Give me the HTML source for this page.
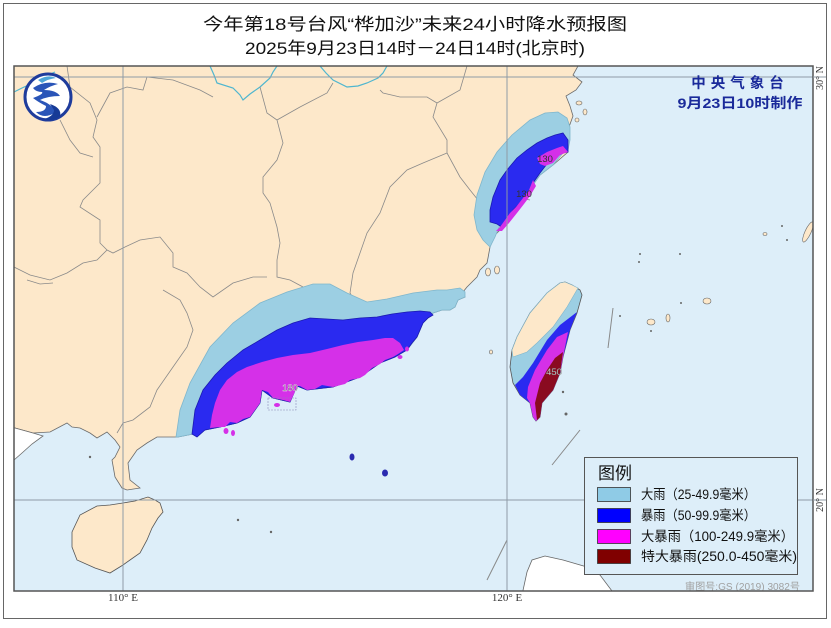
<!DOCTYPE html>
<html><head><meta charset="utf-8"><style>
html,body{margin:0;padding:0;background:#fff;}
svg{display:block;}
text{font-family:"Liberation Sans","Noto Sans CJK SC",sans-serif;}
</style></head><body>
<svg width="831" height="628" viewBox="0 0 831 628" xmlns="http://www.w3.org/2000/svg">
<rect x="0" y="0" width="831" height="628" fill="#fff"/>
<rect x="3.5" y="3.5" width="823" height="615" fill="none" stroke="#666" stroke-width="1"/>
<text x="415" y="30" font-size="17" text-anchor="middle" fill="#111" textLength="424" lengthAdjust="spacingAndGlyphs">今年第18号台风“桦加沙”未来24小时降水预报图</text>
<text x="415" y="54" font-size="17" text-anchor="middle" fill="#111" textLength="340" lengthAdjust="spacingAndGlyphs">2025年9月23日14时－24日14时(北京时)</text>
<defs><clipPath id="mc"><rect x="14" y="66" width="799" height="525"/></clipPath></defs>
<g clip-path="url(#mc)">
<rect x="14" y="66" width="799" height="525" fill="#DDEEF9"/>
<!-- mainland -->
<path fill="#FDE8CA" stroke="#6a6a6a" stroke-width="0.8" d="M14,60 L578,60 L578,66 L573,75 L582,82 L576,90 L566,96 L570,106 L573,116 L569,127 L568,152 L553,165 L540,175 L533,185 L523,200 L513,212 L505,225 L495,235 L490,247 L488,258 L487,263 L480,270 L477,277 L472,282 L467,287 L463,292 L465,297 L458,300 L455,307 L450,310 L442,310 L433,313 L423,323 L417,337 L407,350 L395,357 L380,363 L360,377 L333,387 L307,390 L297,386 L290,402 L273,398 L262,390 L260,403 L250,417 L237,423 L220,427 L205,430 L193,434 L178,437 L157,437 L147,443 L137,450 L128,463 L130,480 L140,488 L127,490 L122,488 L115,477 L112,460 L115,457 L120,447 L115,440 L107,432 L97,438 L90,433 L80,428 L72,427 L67,423 L50,432 L33,433 L15,428 L10,428 Z"/>
<!-- Vietnam -->
<path fill="#fff" stroke="#6a6a6a" stroke-width="0.8" d="M10,428 L15,428 L33,433 L43,436 L32,444 L22,453 L14,460 L10,460 Z"/>
<!-- Hainan -->
<path fill="#FDE8CA" stroke="#555" stroke-width="0.8" d="M72,532 L80,515 L97,506 L110,505 L123,503 L135,501 L148,497 L155,500 L160,503 L163,512 L158,518 L152,528 L147,540 L140,553 L130,560 L123,565 L110,573 L95,568 L77,560 L72,547 Z"/>
<!-- Philippines -->
<path fill="#fff" stroke="#666" stroke-width="0.8" d="M522,595 L527,572 L532,560 L545,556 L563,560 L587,567 L600,575 L615,595 Z"/>
<!-- small islands -->
<g fill="#FDE8CA" stroke="#666" stroke-width="0.6">
<ellipse cx="579" cy="103" rx="3" ry="2"/><ellipse cx="585" cy="112" rx="2" ry="3"/><ellipse cx="577" cy="120" rx="2" ry="2"/>
<ellipse cx="488" cy="272" rx="2.5" ry="4"/><ellipse cx="497" cy="270" rx="2.5" ry="4"/>
<ellipse cx="491" cy="352" rx="1.5" ry="2"/>
<ellipse cx="651" cy="322" rx="4" ry="3"/><ellipse cx="668" cy="318" rx="2" ry="4"/><ellipse cx="707" cy="301" rx="4" ry="3"/>
<ellipse cx="765" cy="234" rx="2" ry="1.5"/><ellipse cx="808" cy="232" rx="3" ry="11" transform="rotate(25 808 232)"/>
</g>
<g fill="#666"><circle cx="640" cy="254" r="1"/><circle cx="680" cy="254" r="1"/><circle cx="639" cy="262" r="1"/><circle cx="651" cy="331" r="1"/><circle cx="787" cy="240" r="1"/><circle cx="782" cy="226" r="1"/><circle cx="620" cy="316" r="1"/><circle cx="681" cy="303" r="1"/><circle cx="90" cy="457" r="1.2"/><circle cx="238" cy="520" r="1.2"/><circle cx="271" cy="532" r="1.2"/><circle cx="563" cy="392" r="1.2"/><circle cx="566" cy="414" r="1.5"/></g>
<!-- sea lines -->
<g stroke="#888" stroke-width="1" fill="none">
<line x1="613" y1="308" x2="608" y2="348"/>
<line x1="552" y1="465" x2="580" y2="430"/>
<line x1="487" y1="580" x2="507" y2="540"/>
</g>
<!-- rivers -->
<g stroke="#4fb6cf" stroke-width="1.2" fill="none">
<path d="M14,92 L22,88 L33,83 L43,77 L55,72"/>
<path d="M210,66 L214,75 L217,83 L233,88 L240,95 L243,100 L250,94 L260,87 L270,78 L273,72 L277,66"/>
<path d="M320,66 L326,73 L333,80 L347,87 L358,86 L367,83 L378,78 L383,73 L387,66"/>
</g>
<!-- province borders -->
<g stroke="#8a8a8a" stroke-width="0.8" fill="none">
<path d="M67,66 L70,87 L90,103 L97,120 L93,137 L100,147 L100,183 L83,200 L80,207 L100,220 L100,243 L107,250 L97,260 L83,263 L67,273 L50,280 L30,275 L14,267"/>
<path d="M60,120 L70,140 L80,153 L93,157"/>
<path d="M97,117 L110,93 L127,87 L143,90 L147,77 L173,80 L200,90 L213,97"/>
<path d="M260,87 L267,113 L277,120 L283,143 L277,160 L263,177 L263,193 L270,203 L277,227 L280,243 L277,260 L277,277 L290,280 L303,287 L315,300 L330,320"/>
<path d="M277,120 L300,107 L327,93 L333,83"/>
<path d="M380,90 L383,93 L400,97 L427,97 L437,103 L460,90 L467,66"/>
<path d="M437,103 L433,117 L447,140 L447,153 L460,177 L470,190 L478,200"/>
<path d="M447,153 L423,163 L407,170 L390,187 L380,213 L367,233 L360,253 L353,273 L350,293 L360,310 L380,325"/>
<path d="M107,250 L113,253 L125,247 L140,240 L160,237 L173,253 L173,267 L187,273 L200,287 L213,297 L233,283 L253,277 L267,277"/>
<path d="M27,280 L40,284 L53,283"/>
<path d="M163,290 L180,300 L187,313 L193,330 L187,347 L173,367 L157,390 L150,407 L133,420 L123,423 L117,433"/>
<path d="M500,190 L515,197 L530,200"/>
</g>
<!-- Guangdong rain -->
<path fill="#9CCFE3" stroke="#7fb6cc" stroke-width="0.8" d="M176,437 L180,410 L190,383 L210,347 L233,323 L260,303 L287,292 L313,284 L330,284 L347,293 L367,302 L387,299 L413,293 L437,290 L447,290 L460,288 L465,292 L465,297 L458,300 L455,307 L450,310 L442,310 L433,313 L423,323 L417,337 L407,350 L395,357 L380,363 L360,377 L333,387 L307,390 L297,386 L290,402 L273,398 L262,390 L260,403 L250,417 L237,423 L220,427 L205,430 L193,434 L178,437 Z"/>
<path fill="#2A2AF0" stroke="#1a1ab0" stroke-width="0.8" d="M192,434 L195,410 L203,390 L215,375 L227,363 L243,350 L260,340 L277,330 L293,323 L310,318 L327,319 L343,320 L360,318 L377,317 L392,314 L407,312 L420,311 L430,312 L433,315 L428,318 L423,323 L420,330 L417,337 L412,343 L407,350 L400,354 L395,357 L380,363 L360,377 L333,387 L307,390 L297,386 L290,402 L273,398 L262,390 L260,403 L250,417 L237,423 L220,427 L205,430 L197,437 Z"/>
<path fill="#D530E8" d="M210,428 L212,415 L215,403 L220,390 L227,380 L237,372 L247,367 L262,362 L277,358 L293,355 L310,353 L327,349 L343,345 L358,342 L373,340 L385,338 L393,338 L400,343 L404,350 L398,354 L393,357 L385,360 L380,364 L372,368 L365,375 L360,378 L350,380 L345,384 L333,387 L322,385 L315,389 L307,390 L300,386 L297,386 L294,394 L290,402 L283,400 L273,398 L268,392 L262,390 L261,396 L260,403 L255,410 L250,417 L243,419 L237,423 L230,422 L225,427 L220,427 Z"/>
<g fill="#D530E8"><ellipse cx="226" cy="431" rx="2.5" ry="3"/><ellipse cx="233" cy="433" rx="2" ry="3"/><ellipse cx="277" cy="405" rx="3" ry="2"/><ellipse cx="400" cy="357" rx="2.5" ry="2"/><ellipse cx="407" cy="349" rx="2" ry="2.5"/></g>
<g fill="#2a2ab0"><ellipse cx="352" cy="457" rx="2.5" ry="3.5"/><ellipse cx="385" cy="473" rx="3" ry="3.5"/></g>
<rect x="268" y="398" width="28" height="12" fill="none" stroke="#8a8ab8" stroke-width="0.6" stroke-dasharray="2,1"/>
<text x="290" y="391" font-size="9.5" text-anchor="middle" fill="#333" stroke="#f0d8f5" stroke-width="0.4">180</text>
<!-- Zhejiang rain -->
<path fill="#9CCFE3" stroke="#7fb6cc" stroke-width="0.8" d="M570,127 L567,118 L558,112 L545,113 L530,120 L512,135 L497,152 L485,172 L477,195 L474,215 L477,230 L483,240 L490,247 L495,237 L500,225 L505,225 L513,212 L523,200 L533,185 L540,175 L553,165 L563,153 L568,150 L570,140 Z"/>
<path fill="#2A2AF0" stroke="#1a1ab0" stroke-width="0.8" d="M563,133 L568,140 L568,152 L563,153 L550,160 L540,173 L533,183 L530,190 L523,200 L513,210 L507,220 L503,228 L497,224 L490,222 L490,210 L493,197 L500,180 L507,170 L517,158 L527,150 L537,143 L547,138 L555,135 Z"/>
<path fill="#D530E8" d="M537,158 L547,152 L557,148 L563,146 L568,152 L560,155 L553,163 L545,166 L540,164 Z"/>
<path fill="#D530E8" d="M533,180 L529,190 L523,198 L516,207 L510,213 L505,220 L500,227 L496,231 L502,231 L509,223 L517,213 L524,204 L530,196 L536,186 Z"/>
<text x="545" y="162" font-size="9.5" text-anchor="middle" fill="#333">130</text>
<text x="524" y="197" font-size="9.5" text-anchor="middle" fill="#333">130</text>
<!-- Taiwan -->
<path fill="#9CCFE3" stroke="#555" stroke-width="0.8" d="M565,282 L572,285 L580,290 L582,295 L577,313 L570,330 L563,357 L560,373 L553,390 L542,403 L540,417 L536,421 L533,417 L530,403 L520,395 L513,383 L510,367 L512,350 L517,337 L530,313 L547,293 L560,283 Z"/>
<path fill="#FDE8CA" stroke="#7fb6cc" stroke-width="0.6" d="M565,282 L572,285 L578,288 L567,307 L553,327 L537,343 L527,352 L513,357 L512,350 L517,337 L530,313 L547,293 L560,283 Z"/>
<path fill="#2A2AF0" d="M577,312 L570,330 L563,357 L560,373 L553,390 L542,403 L540,417 L536,421 L533,417 L530,403 L520,395 L515,385 L523,377 L533,363 L547,340 L560,325 Z"/>
<path fill="#D530E8" d="M568,332 L563,357 L560,373 L553,390 L542,403 L540,417 L536,421 L533,417 L530,403 L527,398 L528,387 L535,370 L547,350 L557,337 Z"/>
<path fill="#8A0B20" d="M563,352 L560,373 L553,390 L542,403 L540,417 L537,420 L535,403 L540,383 L547,370 L555,358 Z"/>
<text x="554" y="375" font-size="9.5" text-anchor="middle" fill="#eee" stroke="#555" stroke-width="0.3">450</text>
<!-- grid -->
<g stroke="#8f9ba6" stroke-width="1">
<line x1="14" y1="77" x2="826" y2="77"/>
<line x1="14" y1="500" x2="826" y2="500"/>
<line x1="123" y1="66" x2="123" y2="591"/>
<line x1="507" y1="66" x2="507" y2="591"/>
</g>
<!-- logo -->
<circle cx="48" cy="97" r="23" fill="#fff" stroke="#1f3c9c" stroke-width="3"/>
<path d="M33,88 Q45,80 58,84 Q50,86 44,90 Q56,90 60,96 Q48,96 40,100 Q52,104 56,112 Q44,120 36,112 Q46,112 46,106 Q38,102 33,98 Q44,94 42,92 Q36,92 33,88 Z" fill="#2a55b8"/>
<path d="M38,80 Q48,74 56,78 Q48,79 42,83 Z" fill="#4fa6d8"/>
<path d="M50,104 Q62,108 60,116 Q54,122 44,119 Q54,116 54,110 Z" fill="#163a96"/>
<text x="740" y="88" font-size="14.5" font-weight="bold" text-anchor="middle" fill="#1a2a9a" letter-spacing="5">中央气象台</text>
<text x="740" y="108" font-size="14" font-weight="bold" text-anchor="middle" fill="#1a2a9a" textLength="125" lengthAdjust="spacingAndGlyphs">9月23日10时制作</text>
<!-- legend -->
<rect x="584.5" y="457.5" width="213" height="117" fill="#DDEEF9" stroke="#555" stroke-width="1"/>
<text x="598" y="479" font-size="17" fill="#111">图例</text>
<rect x="597.5" y="487.5" width="33" height="14" fill="#8FCBE6" stroke="#333" stroke-width="0.8"/>
<rect x="597.5" y="508.5" width="33" height="14" fill="#0000FF" stroke="#333" stroke-width="0.8"/>
<rect x="597.5" y="529.5" width="33" height="14" fill="#FF00FF" stroke="#333" stroke-width="0.8"/>
<rect x="597.5" y="549.5" width="33" height="14" fill="#800000" stroke="#333" stroke-width="0.8"/>
<text x="641" y="499" font-size="13.5" fill="#111" textLength="115" lengthAdjust="spacingAndGlyphs">大雨（25-49.9毫米）</text>
<text x="641" y="520" font-size="13.5" fill="#111" textLength="115" lengthAdjust="spacingAndGlyphs">暴雨（50-99.9毫米）</text>
<text x="641" y="541" font-size="13.5" fill="#111" textLength="153" lengthAdjust="spacingAndGlyphs">大暴雨（100-249.9毫米）</text>
<text x="641" y="561" font-size="13.5" fill="#111" textLength="156" lengthAdjust="spacingAndGlyphs">特大暴雨(250.0-450毫米)</text>
<text x="685" y="590" font-size="10.5" fill="#a0a0a0" textLength="115" lengthAdjust="spacingAndGlyphs">审图号:GS (2019) 3082号</text>
</g>
<rect x="14" y="66" width="799" height="525" fill="none" stroke="#555" stroke-width="1.5"/>
<g stroke="#8f9ba6" stroke-width="1"><line x1="813" y1="77" x2="826" y2="77"/><line x1="813" y1="500" x2="826" y2="500"/></g>
<text transform="translate(823,78) rotate(-90)" font-size="10" text-anchor="middle" fill="#333" style="font-family:'Liberation Serif',serif">30° N</text>
<text transform="translate(823,500) rotate(-90)" font-size="10" text-anchor="middle" fill="#333" style="font-family:'Liberation Serif',serif">20° N</text>
<text x="123" y="601" font-size="11" text-anchor="middle" fill="#333" style="font-family:'Liberation Serif',serif">110° E</text>
<text x="507" y="601" font-size="11" text-anchor="middle" fill="#333" style="font-family:'Liberation Serif',serif">120° E</text>
</svg>
</body></html>
